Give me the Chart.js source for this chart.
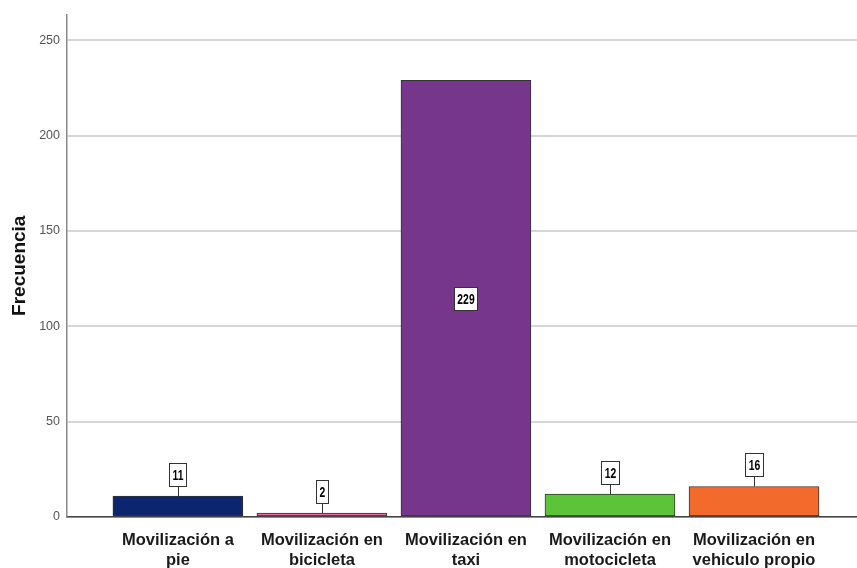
<!DOCTYPE html>
<html>
<head>
<meta charset="utf-8">
<script src="https://cdn.jsdelivr.net/npm/chart.js@4/dist/chart.umd.min.js"></script>
<style>
    html, body { margin: 0; padding: 0; background: #fff; }
    #wrap { width: 857px; height: 568px; }
</style>
</head>
<body>
<div id="wrap"><canvas id="chart"></canvas></div>
<script>
// categories and counts
const categories = [
    ['Movilización a', 'pie'],
    ['Movilización en', 'bicicleta'],
    ['Movilización en', 'taxi'],
    ['Movilización en', 'motocicleta'],
    ['Movilización en', 'vehiculo propio']
];
const counts = [11, 2, 229, 12, 16];
const barColors = ['#0b266f', '#e9699b', '#75368b', '#5dc43a', '#f26a2c'];
const yTicks = [0, 50, 100, 150, 200, 250];

// boxed value labels like SPSS does them
const valueBoxes = {
    id: 'valueBoxes',
    afterDatasetsDraw(chart) {
        const ctx = chart.ctx;
        const yScale = chart.scales.y;
        const meta = chart.getDatasetMeta(0);
        const squeeze = 0.74;
        ctx.save();
        ctx.font = 'bold 14px "Liberation Sans", Arial, sans-serif';
        ctx.textAlign = 'center';
        ctx.textBaseline = 'middle';
        meta.data.forEach((bar, i) => {
            const v = counts[i];
            const txt = String(v);
            const w = Math.round(ctx.measureText(txt).width * squeeze + 6);
            const h = 23;
            let cy;
            const inside = (bar.base - bar.y) > 60;
            if (inside) {
                cy = yScale.getPixelForValue(v / 2);
            } else {
                cy = bar.y - 10 - h / 2;
                ctx.strokeStyle = '#333';
                ctx.lineWidth = 1;
                ctx.beginPath();
                ctx.moveTo(Math.round(bar.x) + 0.5, bar.y);
                ctx.lineTo(Math.round(bar.x) + 0.5, cy + h / 2);
                ctx.stroke();
            }
            const left = Math.round(bar.x - w / 2);
            const top = Math.round(cy - h / 2);
            ctx.fillStyle = '#fff';
            ctx.fillRect(left, top, w, h);
            ctx.strokeStyle = '#333';
            ctx.lineWidth = 1;
            ctx.strokeRect(left + 0.5, top + 0.5, w, h);
            ctx.fillStyle = '#000';
            ctx.save();
            ctx.translate(left + w / 2 + 0.5, top + h / 2 + 1.5);
            ctx.scale(squeeze, 1.08);
            ctx.fillText(txt, 0, 0);
            ctx.restore();
        });
        ctx.restore();
    }
};

document.addEventListener('DOMContentLoaded', () => {
    const ctx = document.getElementById('chart').getContext('2d');

    new Chart(ctx, {
        type: 'bar',
        data: {
            datasets: [{
                data: counts.map((c, i) => ({ x: i, y: c })),
                backgroundColor: barColors,
                borderColor: '#333',
                borderWidth: 1,
                borderSkipped: false,
                barThickness: 130
            }]
        },
        plugins: [valueBoxes],
        options: {
            responsive: true,
            maintainAspectRatio: false,
            animation: false,
            layout: { padding: { top: 12, right: 0, left: 0, bottom: 0 } },
            plugins: {
                legend: { display: false },
                tooltip: { enabled: false }
            },
            scales: {
                x: {
                    type: 'linear',
                    min: -0.77,
                    max: 4.715,
                    offset: false,
                    afterBuildTicks: s => { s.ticks = categories.map((_, i) => ({ value: i })); },
                    afterFit: s => { s.height = 51; },
                    grid: { display: false, drawTicks: false },
                    border: { display: true, color: '#444', width: 1.5 },
                    ticks: {
                        autoSkip: false,
                        maxRotation: 0,
                        padding: 14,
                        color: '#1a1a1a',
                        font: { family: '"Liberation Sans", Arial, sans-serif', size: 16.5, weight: 'bold', lineHeight: 1.2 },
                        callback: v => categories[v]
                    }
                },
                y: {
                    min: 0,
                    max: 263.5,
                    afterFit: s => { s.width = 67; },
                    afterBuildTicks: s => { s.ticks = yTicks.map(v => ({ value: v })); },
                    grid: { color: '#d6d6d6', lineWidth: 2, drawTicks: false },
                    border: { display: true, color: '#8a8a8a', width: 1.5 },
                    ticks: {
                        padding: 7,
                        color: '#555',
                        font: { family: '"Liberation Sans", Arial, sans-serif', size: 12.5 }
                    },
                    title: {
                        display: true,
                        text: 'Frecuencia',
                        color: '#111',
                        padding: { top: 8, bottom: 0 },
                        font: { family: '"Liberation Sans", Arial, sans-serif', size: 19, weight: 'bold' }
                    }
                }
            }
        }
    });
});
</script>
</body>
</html>
